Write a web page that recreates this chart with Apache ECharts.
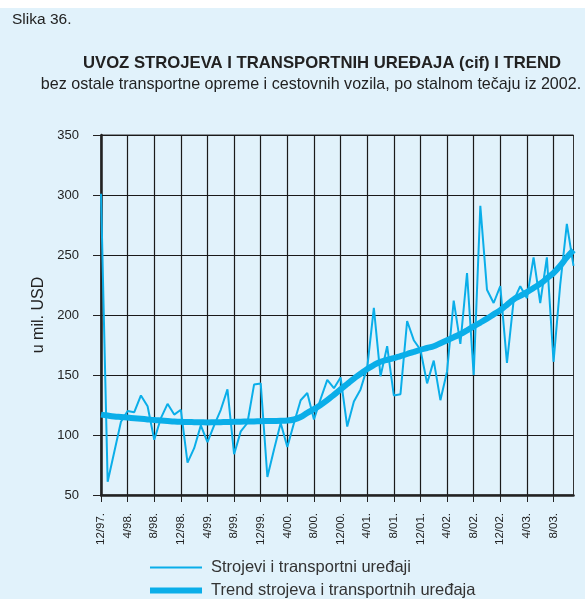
<!DOCTYPE html>
<html>
<head>
<meta charset="utf-8">
<script src="https://cdn.jsdelivr.net/npm/echarts@6/dist/echarts.min.js"></script>
<style>
  html, body { margin: 0; padding: 0; background: #ffffff; }
  #chart { position: absolute; left: 0; top: 8px; width: 585px; height: 591px; }
</style>
</head>
<body>
<div id="chart"></div>
<script>
// Monthly periods, 12/1997 – 11/2003
const months = [
  '12/97.',
  '1/98.','2/98.','3/98.','4/98.','5/98.','6/98.','7/98.','8/98.','9/98.','10/98.','11/98.','12/98.',
  '1/99.','2/99.','3/99.','4/99.','5/99.','6/99.','7/99.','8/99.','9/99.','10/99.','11/99.','12/99.',
  '1/00.','2/00.','3/00.','4/00.','5/00.','6/00.','7/00.','8/00.','9/00.','10/00.','11/00.','12/00.',
  '1/01.','2/01.','3/01.','4/01.','5/01.','6/01.','7/01.','8/01.','9/01.','10/01.','11/01.','12/01.',
  '1/02.','2/02.','3/02.','4/02.','5/02.','6/02.','7/02.','8/02.','9/02.','10/02.','11/02.','12/02.',
  '1/03.','2/03.','3/03.','4/03.','5/03.','6/03.','7/03.','8/03.','9/03.','10/03.','11/03.'
];

// Imports of machinery and transport equipment, million USD
const imports = [
  301,
  61, 86, 111, 120, 119, 133, 124, 96, 114, 126, 117, 121,
  77, 89, 108, 94, 108, 121, 138, 84, 103, 110, 142, 143,
  65, 88, 110, 90, 110, 129, 135, 113, 130, 146, 139, 148,
  107, 128, 138, 156, 206, 149, 174, 133, 134, 195, 179, 171,
  143, 162, 129, 153, 212, 176, 235, 150, 291, 221, 210, 224,
  160, 212, 224, 214, 248, 210, 248, 161, 225, 276, 241
];

// Trend component
const trend = [
  117,
  116.2, 115.5, 115, 114.5, 114, 113.5, 113, 112.5, 112.1, 111.7, 111.3, 111,
  110.8, 110.7, 110.6, 110.5, 110.6, 110.7, 110.8, 111, 111.1, 111.2, 111.3, 111.5,
  111.6, 111.7, 111.8, 112, 112.9, 115, 118.5, 121.5, 125, 129, 133.5, 138,
  142.5, 147, 151, 155, 158.3, 161, 162.7, 164, 165.8, 167.5, 169.3, 171,
  172.5, 174, 176.5, 179, 181.5, 184, 187.2, 190.5, 193.7, 197, 200.5, 204,
  208.5, 213, 216, 219, 222.5, 226, 230.5, 235, 241, 248, 254
];

const yTicks = { min: 50, max: 350, step: 50 };

const SERIES_NAMES = ['Strojevi i transportni uređaji', 'Trend strojeva i transportnih uređaja'];

const FONT = '"Liberation Sans", Arial, Helvetica, sans-serif';
const INK = '#222222';
const CYAN = '#0aaee9';

const chart = echarts.init(document.getElementById('chart'), null, { renderer: 'canvas' });

function legendRow(name, top, thickness) {
  return {
    data: [name],
    left: 145, top: top,
    itemWidth: 52, itemHeight: 16,
    icon: 'path://M0 0H52V' + thickness + 'H0Z',
    symbolKeepAspect: true,
    textStyle: { fontSize: 16.5, lineHeight: 16, color: '#333', fontFamily: FONT, padding: [0, 0, 0, 4] }
  };
}

chart.setOption({
  backgroundColor: '#e1f2fb',
  animation: false,
  textStyle: { fontFamily: FONT },
  graphic: [
    { type: 'text', left: 12, top: 4,
      style: { text: 'Slika 36.', fontSize: 15.5, fontFamily: FONT, fill: INK } },
    { type: 'text', style: { x: 322, y: 55.5, text: 'UVOZ STROJEVA I TRANSPORTNIH UREĐAJA (cif) I TREND',
      fontSize: 16.7, fontWeight: 'bold', fontFamily: FONT, fill: INK,
      align: 'center', verticalAlign: 'middle' } },
    { type: 'text', style: { x: 311, y: 76.5, text: 'bez ostale transportne opreme i cestovnih vozila, po stalnom tečaju iz 2002.',
      fontSize: 16.1, fontFamily: FONT, fill: INK,
      align: 'center', verticalAlign: 'middle' } }
  ],
  grid: {
    left: 101, right: 11.5, top: 127, bottom: 104,
    show: true, borderColor: '#333', borderWidth: 1, backgroundColor: 'transparent'
  },
  legend: [
    legendRow(SERIES_NAMES[0], 546, 2),
    legendRow(SERIES_NAMES[1], 569, 6)
  ],
  xAxis: {
    type: 'category',
    data: months,
    boundaryGap: false,
    axisLine: { show: true, lineStyle: { color: INK, width: 2.5 } },
    axisTick: { show: true, interval: 3, length: 7, lineStyle: { color: INK, width: 1 } },
    axisLabel: { interval: 3, rotate: 90, margin: 18, fontSize: 11.5, color: INK, fontFamily: FONT },
    splitLine: { show: true, interval: 3, lineStyle: { color: '#1a1a1a', width: 1.2 } }
  },
  yAxis: {
    type: 'value',
    min: yTicks.min, max: yTicks.max, interval: yTicks.step,
    name: 'u mil. USD',
    nameLocation: 'middle',
    nameGap: 51,
    nameTextStyle: { fontSize: 16, color: INK, fontFamily: FONT },
    axisLine: { show: true, lineStyle: { color: INK, width: 2.5 } },
    axisTick: { show: true, length: 8, lineStyle: { color: INK, width: 1 } },
    axisLabel: { margin: 22, fontSize: 13, color: INK, fontFamily: FONT },
    splitLine: { show: true, lineStyle: { color: '#1a1a1a', width: 1.2 } }
  },
  series: [
    {
      name: SERIES_NAMES[0],
      type: 'line',
      data: imports,
      symbol: 'none',
      lineStyle: { color: CYAN, width: 2 },
      itemStyle: { color: CYAN },
      z: 3
    },
    {
      name: SERIES_NAMES[1],
      type: 'line',
      data: trend,
      symbol: 'none',
      smooth: 0.4,
      lineStyle: { color: CYAN, width: 6 },
      itemStyle: { color: CYAN },
      z: 4
    }
  ]
});
</script>
</body>
</html>
